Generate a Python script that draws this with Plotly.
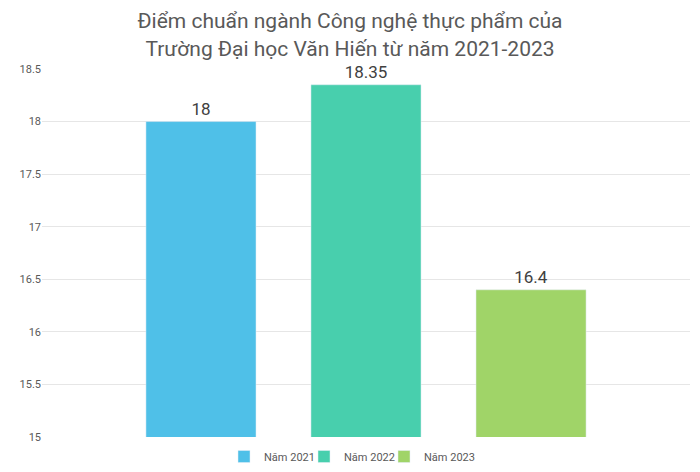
import plotly.graph_objects as go

categories = [""]
series_names = ["Năm 2021", "Năm 2022", "Năm 2023"]
values = [18, 18.35, 16.4]
labels = ["18", "18.35", "16.4"]
colors = ["#4FC0E8", "#48CFAD", "#A0D468"]
y_ticks = [15, 15.5, 16, 16.5, 17, 17.5, 18, 18.5]

PLOT_L, PLOT_R = 42, 690
legend_symbol_px = [243, 323, 403]
legend_keys = ["legend", "legend2", "legend3"]

fig = go.Figure()
for name, v, lab, c, lk in zip(series_names, values, labels, colors, legend_keys):
    fig.add_trace(go.Bar(
        x=categories, y=[v], name=name, marker_color=c,
        text=[lab], textposition="outside", cliponaxis=False,
        textfont=dict(size=17, color="#404040"), legend=lk,
    ))

legend_layout = {}
for lk, px in zip(legend_keys, legend_symbol_px):
    legend_layout[lk] = dict(
        orientation="h", xref="paper", x=(px - 19 - PLOT_L) / (PLOT_R - PLOT_L),
        xanchor="left", y=-0.053, yanchor="middle",
        font=dict(size=11, color="#595959"), itemwidth=30,
        bgcolor="rgba(0,0,0,0)",
    )

fig.update_layout(
    width=700, height=472,
    margin=dict(l=42, r=10, t=69, b=35, autoexpand=False),
    paper_bgcolor="white", plot_bgcolor="white",
    font=dict(family="Roboto", color="#595959"),
    title=dict(
        text="Điểm chuẩn ngành Công nghệ thực phẩm của<br>Trường Đại học Văn Hiến từ năm 2021-2023",
        x=0.5, xanchor="center", xref="container", yref="container",
        y=0.94, yanchor="middle",
        font=dict(size=21, color="#595959", family="Roboto"),
    ),
    barmode="group", bargap=0.236, bargroupgap=0.333,
    showlegend=True,
    yaxis=dict(range=[15, 18.5], tickvals=y_ticks, ticktext=[f"{t:g}" for t in y_ticks],
               showgrid=True, gridcolor="#E6E6E6", gridwidth=1, zeroline=False,
               showline=False, tickfont=dict(size=11, color="#595959"), ticks="",
               automargin=False),
    xaxis=dict(range=[-0.5, 0.5], showticklabels=False, showgrid=False, zeroline=False,
               showline=False, automargin=False),
    **legend_layout,
)

fig.write_html("out.html", config={"displayModeBar": False})

with open("out.html", "r", encoding="utf-8") as f:
    html = f.read()
html = html.replace("<head>", "<head><style>html,body{margin:0;padding:0;overflow:hidden}</style>", 1)
with open("out.html", "w", encoding="utf-8") as f:
    f.write(html)
